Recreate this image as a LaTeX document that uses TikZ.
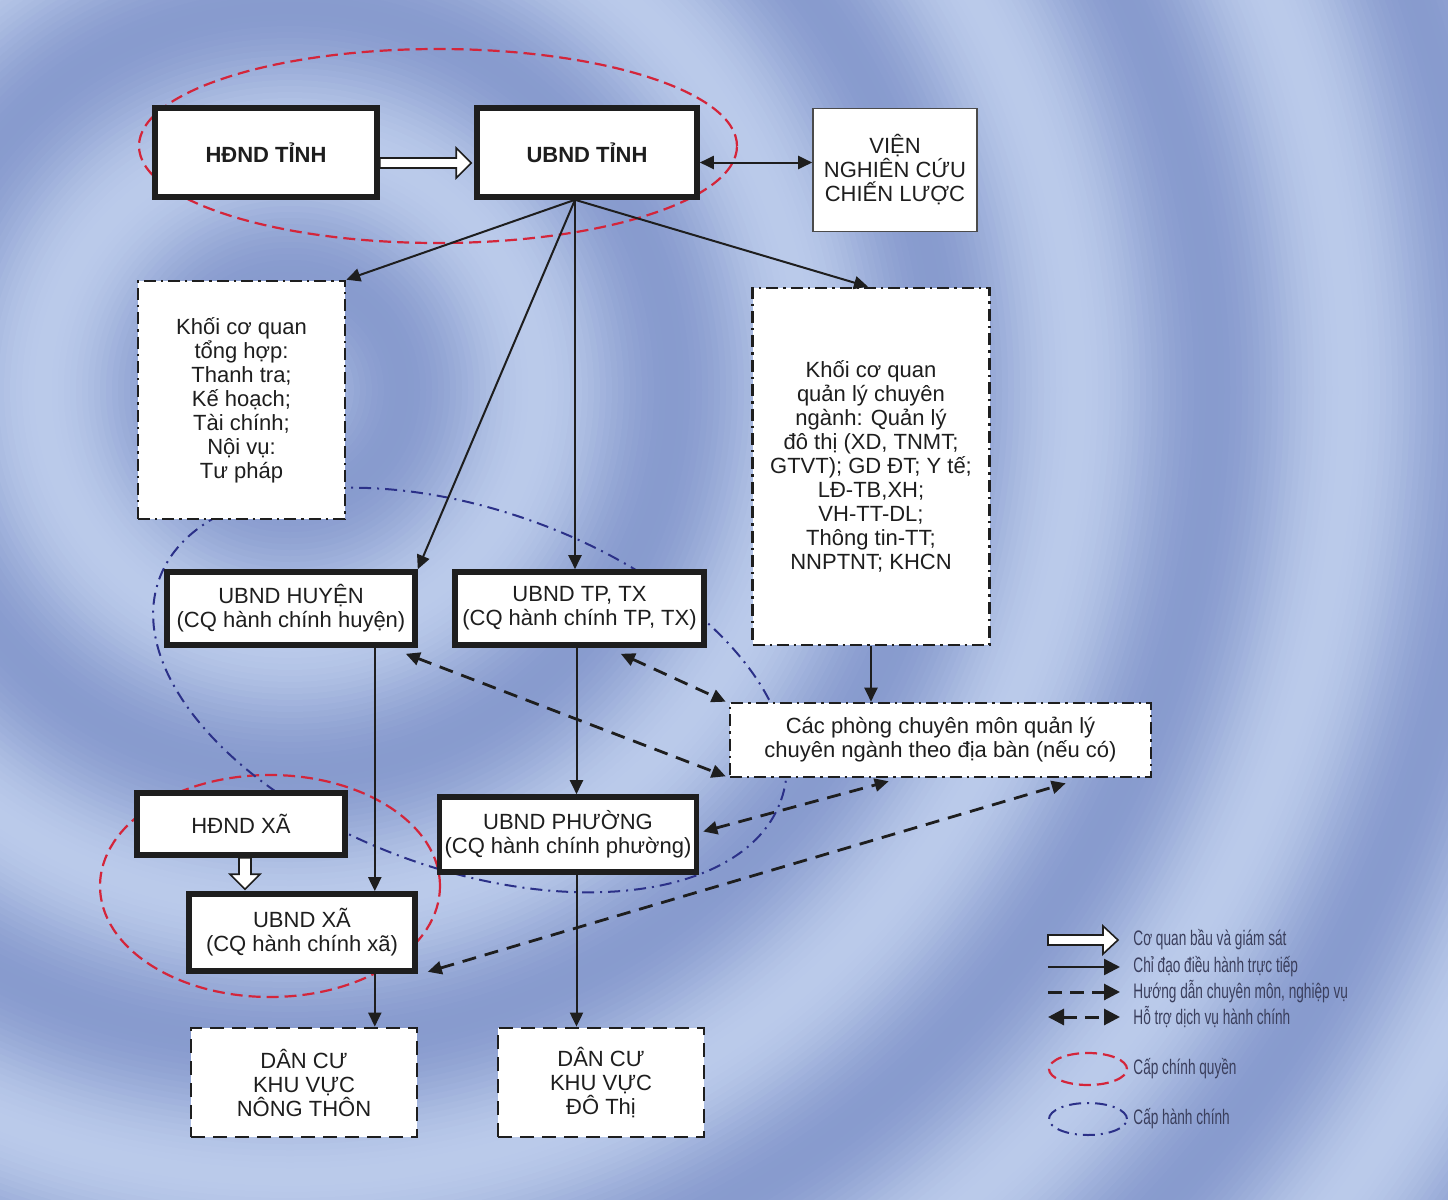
\documentclass[tikz,border=0pt]{standalone}
\usepackage{fontspec}
\setmainfont{Liberation Sans}
\newfontfamily\legendfont[FakeStretch=0.65]{Liberation Sans}
\usetikzlibrary{arrows.meta,calc}
\definecolor{bgL}{HTML}{BACAEA}
\definecolor{bgD}{HTML}{889BCE}
\definecolor{ink}{HTML}{1E1E1E}
\definecolor{redE}{HTML}{D4253A}
\definecolor{blueE}{HTML}{2B3088}
\definecolor{legtxt}{HTML}{3A3E5C}
\begin{document}
\begin{tikzpicture}[x=0.5pt,y=-0.5pt,
  every node/.style={font=\fontsize{11}{12}\selectfont, text=ink, align=center, inner sep=0pt},
  thickbox/.style={draw=ink, fill=white, line width=2.8pt},
  thinbox/.style={draw=ink!80, fill=white, line width=0.8pt},
  ddbox/.style={draw=ink, fill=white, line width=1.3pt, dash pattern=on 6pt off 2.5pt on 1.2pt off 2.5pt},
  dbox/.style={draw=ink, fill=white, line width=1.4pt, dash pattern=on 7pt off 4pt},
  direct/.style={draw=ink, line width=1pt, -{Triangle[length=7pt,width=6.5pt]}},
  directboth/.style={draw=ink, line width=1pt, {Triangle[length=7pt,width=6.5pt]}-{Triangle[length=7pt,width=6.5pt]}},
  guide/.style={draw=ink, line width=1.4pt, dash pattern=on 7pt off 4.5pt, {Triangle[length=7pt,width=6.5pt]}-{Triangle[length=7pt,width=6.5pt]}},
  lgdirect/.style={draw=ink, line width=1.2pt, -{Triangle[length=8pt,width=8pt]}},
  lgguide/.style={draw=ink, line width=1.5pt, dash pattern=on 7pt off 4pt, -{Triangle[length=8pt,width=8pt]}},
  lgguideboth/.style={draw=ink, line width=1.5pt, dash pattern=on 7pt off 4pt, {Triangle[length=8pt,width=8pt]}-{Triangle[length=8pt,width=8pt]}},
  fat/.style={draw=ink, fill=white, line width=0.8pt, line join=miter},
  govt/.style={draw=redE, line width=1.1pt, dash pattern=on 6pt off 3pt},
  admin/.style={draw=blueE, line width=1pt, dash pattern=on 6pt off 3pt on 1pt off 3pt},
  legend/.style={font=\legendfont\fontsize{10.5}{12}\selectfont, text=legtxt, anchor=west},
]
\useasboundingbox (0,0) rectangle (1448,1200);
% background rings
\begin{scope}
\clip (0,0) rectangle (1448,1200);
\fill[bgD] (0,0) rectangle (1448,1200);
\foreach \r in {1450,1444,...,4} {
  \pgfmathsetmacro\t{max(0,min(100,50+50*cos((\r-250)/270*360)))}
  \fill[bgL!\t!bgD] (290,390) circle [radius=\r*0.5pt];
}
\end{scope}

% grouping ellipses
\draw[govt] (438,146) ellipse [x radius=149.5pt, y radius=48.5pt];
\draw[govt] (270,886) ellipse [x radius=85pt, y radius=55.5pt];
\draw[admin, rotate around={-19.5:(470,690)}] (470,690) ellipse [x radius=165pt, y radius=90pt];

% nodes
\node[thickbox, minimum width=111pt, minimum height=44.5pt, font=\bfseries\fontsize{11}{12}\selectfont] (hdt) at (266,152.5) {HĐND TỈNH};
\node[thickbox, minimum width=110pt, minimum height=44.5pt, font=\bfseries\fontsize{11}{12}\selectfont] (udt) at (587,152.5) {UBND TỈNH};
\node[thinbox, minimum width=82pt, minimum height=61.5pt] (vien) at (895,170) {VIỆN\\NGHIÊN CỨU\\CHIẾN LƯỢC};
\node[ddbox, minimum width=103.5pt, minimum height=119pt] (kth) at (241.5,400) {Khối cơ quan\\tổng hợp:\\Thanh tra;\\Kế hoạch;\\Tài chính;\\Nội vụ:\\Tư pháp};
\node[ddbox, minimum width=118.5pt, minimum height=178.5pt] (kcn) at (871,466.5) {Khối cơ quan\\quản lý chuyên\\ngành: Quản lý\\đô thị (XD, TNMT;\\GTVT); GD ĐT; Y tế;\\LĐ-TB,XH;\\VH-TT-DL;\\Thông tin-TT;\\NNPTNT; KHCN};
\node[thickbox, minimum width=124pt, minimum height=36.5pt] (huyen) at (291,608.5) {UBND HUYỆN\\(CQ hành chính huyện)};
\node[thickbox, minimum width=124.5pt, minimum height=36.5pt] (tp) at (579.5,608.5) {UBND TP, TX\\(CQ hành chính TP, TX)};
\node[ddbox, minimum width=210.5pt, minimum height=37pt] (cp) at (940.5,740) {Các phòng chuyên môn quản lý\\chuyên ngành theo địa bàn (nếu có)};
\node[thickbox, minimum width=104pt, minimum height=31pt] (hdx) at (241,824) {HĐND XÃ};
\node[thickbox, minimum width=128.5pt, minimum height=37.5pt] (phuong) at (568,834.5) {UBND PHƯỜNG\\(CQ hành chính phường)};
\node[thickbox, minimum width=113pt, minimum height=38.5pt] (xa) at (302,932.5) {UBND XÃ\\(CQ hành chính xã)};
\node[dbox, minimum width=113pt, minimum height=54.5pt] (dnt) at (304,1082.5) {DÂN CƯ\\KHU VỰC\\NÔNG THÔN};
\node[dbox, minimum width=103pt, minimum height=54.5pt] (ddt) at (601,1082.5) {DÂN CƯ\\KHU VỰC\\ĐÔ Thị};

% hollow arrow HĐND TỈNH -> UBND TỈNH
\coordinate (fa1) at ($(hdt.east)+(0,10.5)$);
\coordinate (fa2) at ($(udt.west)+(-3,10.5)$);
\draw[fat] ($(fa1)+(0,-5)$) -- ($(fa2)+(-15,-5)$) -- ($(fa2)+(-15,-15)$) -- (fa2)
  -- ($(fa2)+(-15,15)$) -- ($(fa2)+(-15,5)$) -- ($(fa1)+(0,5)$) -- cycle;
% hollow arrow HĐND XÃ -> UBND XÃ
\coordinate (fb1) at ($(hdx.south)+(4,0)$);
\coordinate (fb2) at ($(hdx.south |- xa.north)+(4,-2)$);
\draw[fat] ($(fb1)+(-6,0)$) -- ($(fb2)+(-6,-15)$) -- ($(fb2)+(-15,-15)$) -- (fb2)
  -- ($(fb2)+(15,-15)$) -- ($(fb2)+(6,-15)$) -- ($(fb1)+(6,0)$) -- cycle;

% direct command connectors
\coordinate (src) at ($(udt.south)+(-12,0)$);
\draw[directboth] ($(udt.east)+(0,10)$) -- ($(vien.west |- udt.east)+(0,10)$);
\draw[direct] (src) -- (kth.north east);
\draw[direct] (src) -- (huyen.north east);
\draw[direct] (src) -- (src |- tp.north);
\draw[direct] (src) -- ($(kcn.north)+(-3,0)$);
\draw[direct] (kcn.south) -- (kcn.south |- cp.north);
\coordinate (hx) at ($(huyen.south east)+(-43,0)$);
\draw[direct] (hx) -- (hx |- xa.north);
\draw[direct] (hx |- xa.south) -- (hx |- dnt.north);
\coordinate (tx) at ($(tp.south)+(-3,0)$);
\draw[direct] (tx) -- (tx |- phuong.north);
\draw[direct] (tx |- phuong.south) -- (tx |- ddt.north);

% guidance / support connectors
\draw[guide] ($(huyen.south east)+(-12,6)$) -- ($(cp.south west)+(-3,-2)$);
\draw[guide] ($(tp.south east)+(-86,6)$) -- ($(cp.north west)+(-3,0)$);
\draw[guide] ($(phuong.east)+(4,-3)$) -- ($(cp.south west)+(160,3)$);
\draw[guide] ($(xa.south east)+(10,-2)$) -- ($(cp.south west)+(337,5)$);

% legend
\coordinate (la1) at (1048,940); \coordinate (la2) at (1118,940);
\draw[fat] ($(la1)+(0,-5)$) -- ($(la2)+(-15,-5)$) -- ($(la2)+(-15,-14)$) -- (la2)
  -- ($(la2)+(-15,14)$) -- ($(la2)+(-15,5)$) -- ($(la1)+(0,5)$) -- cycle;
\coordinate (lb1) at (1048,967); \coordinate (lb2) at (1120,967);
\draw[lgdirect] (lb1) -- (lb2);
\coordinate (lc1) at (1048,992); \coordinate (lc2) at (1120,992);
\draw[lgguide] (lc1) -- (lc2);
\coordinate (ld1) at (1048,1017); \coordinate (ld2) at (1120,1017);
\draw[lgguideboth] (ld1) -- (ld2);
\draw[govt] (1088,1069) ellipse [x radius=19.5pt, y radius=8pt];
\draw[admin] (1088,1119) ellipse [x radius=19.5pt, y radius=8pt];
\node[legend] (lt1) at (1133,940) {Cơ quan bầu và giám sát};
\node[legend] (lt2) at (1133,967) {Chỉ đạo điều hành trực tiếp};
\node[legend] (lt3) at (1133,992) {Hướng dẫn chuyên môn, nghiệp vụ};
\node[legend] (lt4) at (1133,1017) {Hỗ trợ dịch vụ hành chính};
\node[legend] (lt5) at (1133,1069) {Cấp chính quyền};
\node[legend] (lt6) at (1133,1119) {Cấp hành chính};
\end{tikzpicture}
\end{document}
